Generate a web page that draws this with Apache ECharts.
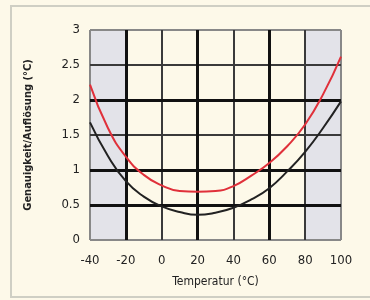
<!DOCTYPE html>
<html>
<head>
<meta charset="utf-8">
<script src="https://cdn.jsdelivr.net/npm/echarts@6/dist/echarts.min.js"></script>
<style>
  html, body { margin: 0; padding: 0; background: #fdf9e9; }
  #chart { width: 370px; height: 300px; }
</style>
</head>
<body>
<div id="chart"></div>
<script>
// Temperatur (°C) der Messpunkte
const temps = [-40, -30, -20, -10, 0, 10, 20, 30, 40, 50, 60, 70, 80, 90, 100];
// rote Kurve (max. Genauigkeit)
const redVals = [2.22, 1.6, 1.19, 0.93, 0.78, 0.7, 0.69, 0.7, 0.77, 0.92, 1.1, 1.34, 1.65, 2.08, 2.62];
// schwarze Kurve (typ. Genauigkeit)
const blackVals = [1.68, 1.2, 0.84, 0.62, 0.48, 0.4, 0.36, 0.39, 0.46, 0.58, 0.74, 0.98, 1.26, 1.6, 1.98];
// Gitterlinien: dick / dünn / Rand
const thickX = [-20, 20, 60];
const thickY = [0.5, 1, 2];
const thinX = [0, 40, 80];
const thinY = [1.5, 2.5];
const edgeX = [-40, 100];
const edgeY = [0, 3];
// grau hinterlegte Bereiche
const shadedRanges = [[-40, -20], [80, 100]];

const font = "'Liberation Sans Narrow', 'DejaVu Sans Condensed', 'Liberation Sans', Arial, sans-serif";
const chart = echarts.init(document.getElementById('chart'));

const pair = (xs, ys) => xs.map((x, i) => [x, ys[i]]);
const lines = (xs, ys, style) =>
  xs.map(v => ({ xAxis: v, lineStyle: style })).concat(ys.map(v => ({ yAxis: v, lineStyle: style })));

const option = {
  backgroundColor: '#fdf9e9',
  animation: false,
  graphic: [{
    type: 'rect',
    shape: { x: 11, y: 6, width: 380, height: 291 },
    style: { fill: 'none', stroke: '#cfcfc4', lineWidth: 2 },
    silent: true
  }],
  grid: { left: 90, right: 29, top: 30, bottom: 60 },
  xAxis: {
    type: 'value', min: -40, max: 100, interval: 20,
    name: 'Temperatur (°C)', nameLocation: 'middle', nameGap: 36,
    nameTextStyle: { fontFamily: font, fontSize: 12, color: '#222' },
    axisLine: { show: false },
    axisTick: { show: false },
    axisLabel: { fontFamily: font, fontSize: 13, color: '#222', margin: 14 },
    splitLine: { show: false }
  },
  yAxis: {
    type: 'value', min: 0, max: 3, interval: 0.5,
    name: 'Genauigkeit/Auflösung (°C)', nameLocation: 'middle', nameGap: 56,
    nameTextStyle: { fontFamily: font, fontSize: 11, color: '#222', fontWeight: 'bold' },
    axisLine: { show: false },
    axisTick: { show: false },
    axisLabel: { fontFamily: font, fontSize: 13, color: '#222', margin: 10 },
    splitLine: { show: false }
  },
  series: [
    {
      type: 'line', data: [], silent: true, z: 1,
      markArea: {
        silent: true,
        itemStyle: { color: '#e3e3e9' },
        data: shadedRanges.map(r => [{ xAxis: r[0] }, { xAxis: r[1] }])
      }
    },
    {
      type: 'line', data: [], silent: true, z: 3,
      markLine: {
        silent: true, symbol: 'none', label: { show: false },
        lineStyle: { type: 'solid' },
        data: lines(edgeX, edgeY, { color: '#888', width: 2, type: 'solid' })
          .concat(lines(thinX, thinY, { color: '#3a3a3a', width: 2, type: 'solid' }))
          .concat(lines(thickX, thickY, { color: '#111', width: 3, type: 'solid' }))
      }
    },
    {
      type: 'line', data: pair(temps, blackVals), smooth: 0.5,
      showSymbol: false, lineStyle: { color: '#222', width: 2 }, z: 5
    },
    {
      type: 'line', data: pair(temps, redVals), smooth: 0.5,
      showSymbol: false, lineStyle: { color: '#e0303a', width: 2 }, z: 6
    }
  ]
};
chart.setOption(option);
</script>
</body>
</html>
